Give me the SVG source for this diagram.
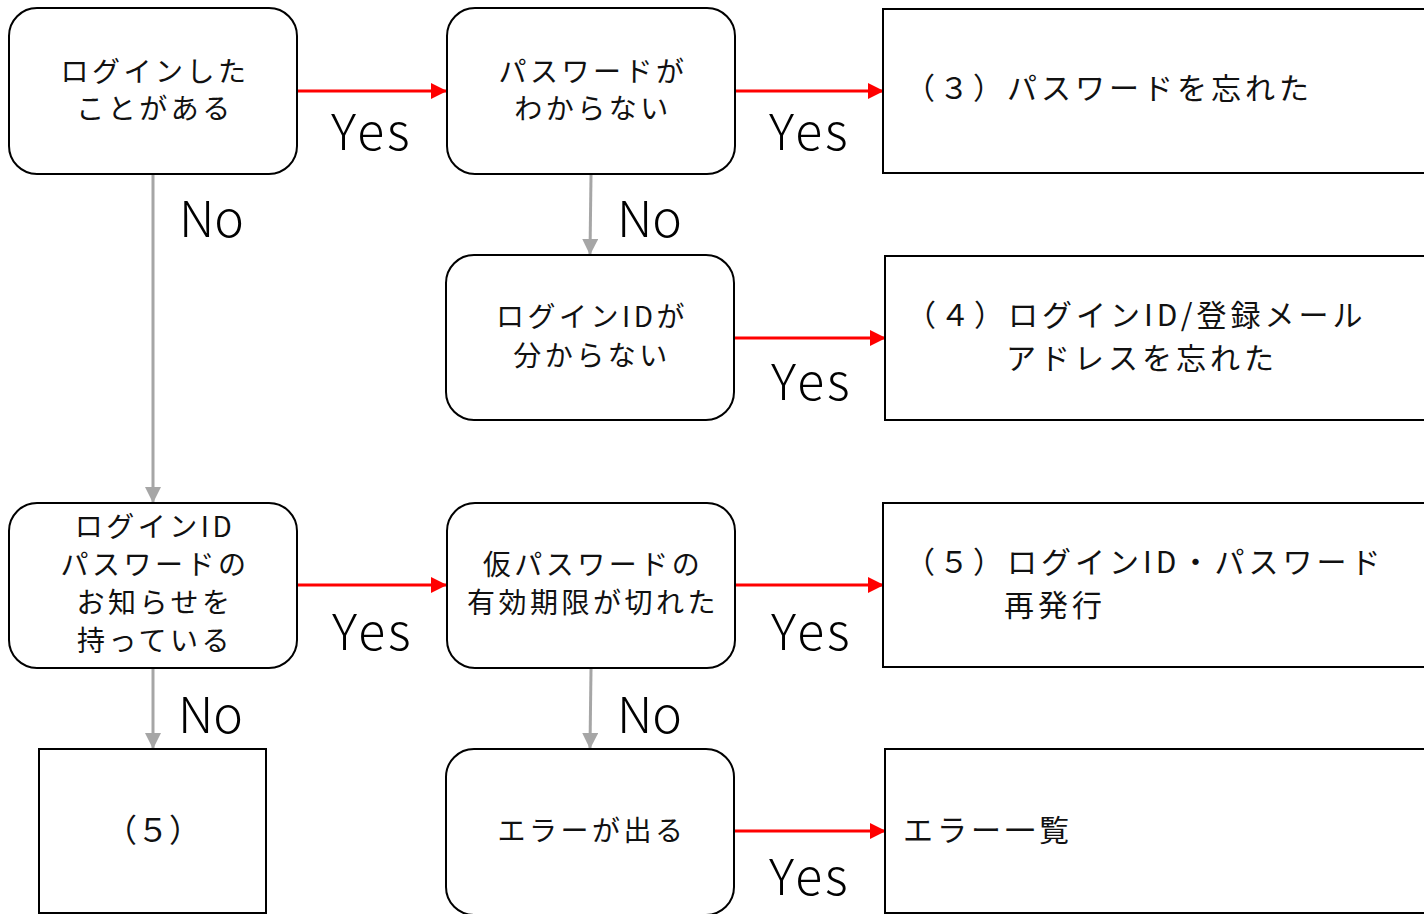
<svg xmlns="http://www.w3.org/2000/svg" width="1424" height="914" viewBox="0 0 1424 914">
<style>
.box{fill:#fff;stroke:#000;stroke-width:2}
.t{font-family:"Noto Sans CJK JP","Noto Sans",sans-serif;font-size:28px;letter-spacing:3.5px;fill:#111;text-anchor:middle}
.r{font-family:"Noto Sans CJK JP","Noto Sans",sans-serif;font-size:30px;letter-spacing:4px;fill:#111}
.yn{font-family:"Noto Sans CJK JP","Noto Sans",sans-serif;font-size:50px;font-weight:300;fill:#000}
.ys{letter-spacing:3px}
.red{stroke:#FF0000;stroke-width:3;fill:none}
.gray{stroke:#A6A6A6;stroke-width:3;fill:none}
</style>
<defs>
<marker id="ar" viewBox="0 0 16 16" refX="15" refY="8" markerWidth="16" markerHeight="16" markerUnits="userSpaceOnUse" orient="auto"><path d="M0,0 L16,8 L0,16 Z" fill="#FF0000"/></marker>
<marker id="ag" viewBox="0 0 16 16" refX="15" refY="8" markerWidth="16" markerHeight="16" markerUnits="userSpaceOnUse" orient="auto"><path d="M0,0 L16,8 L0,16 Z" fill="#A6A6A6"/></marker>
</defs>
<rect width="1424" height="914" fill="#fff"/>
<g id="connectors">
<line class="red" x1="298" y1="91" x2="446" y2="91" marker-end="url(#ar)"/>
<line class="red" x1="736" y1="91" x2="883" y2="91" marker-end="url(#ar)"/>
<line class="red" x1="735" y1="338" x2="885" y2="338" marker-end="url(#ar)"/>
<line class="red" x1="298" y1="585" x2="446" y2="585" marker-end="url(#ar)"/>
<line class="red" x1="736" y1="585" x2="883" y2="585" marker-end="url(#ar)"/>
<line class="red" x1="735" y1="831" x2="885" y2="831" marker-end="url(#ar)"/>
<line class="gray" x1="153" y1="175" x2="153" y2="502" marker-end="url(#ag)"/>
<line class="gray" x1="591" y1="175" x2="590" y2="254" marker-end="url(#ag)"/>
<line class="gray" x1="153" y1="669" x2="153" y2="748" marker-end="url(#ag)"/>
<line class="gray" x1="591" y1="669" x2="590" y2="748" marker-end="url(#ag)"/>
<text class="yn ys" x="331" y="150">Yes</text>
<text class="yn ys" x="769" y="150">Yes</text>
<text class="yn ys" x="771" y="400">Yes</text>
<text class="yn ys" x="332" y="650">Yes</text>
<text class="yn ys" x="771" y="650">Yes</text>
<text class="yn ys" x="769" y="895">Yes</text>
<text class="yn" x="179" y="237">No</text>
<text class="yn" x="617" y="237">No</text>
<text class="yn" x="178" y="733">No</text>
<text class="yn" x="617" y="733">No</text>
</g>
<g id="n-logged">
<rect class="box" x="9" y="8" width="288" height="166" rx="28"/>
<text class="t" x="155" y="82">ログインした</text>
<text class="t" x="155" y="119">ことがある</text>
</g>
<g id="n-pw">
<rect class="box" x="447" y="8" width="288" height="166" rx="28"/>
<text class="t" x="593" y="82">パスワードが</text>
<text class="t" x="593" y="119">わからない</text>
</g>
<g id="n-3">
<rect class="box" x="883" y="9" width="560" height="164"/>
<text class="r" x="905" y="99">（３）パスワードを忘れた</text>
</g>
<g id="n-id">
<rect class="box" x="446" y="255" width="288" height="165" rx="28"/>
<text class="t" x="592" y="327">ログインIDが</text>
<text class="t" x="592" y="366">分からない</text>
</g>
<g id="n-4">
<rect class="box" x="885" y="256" width="560" height="164"/>
<text class="r" x="906" y="326">（４）ログインID/登録メール</text>
<text class="r" x="1006" y="369">アドレスを忘れた</text>
</g>
<g id="n-notice">
<rect class="box" x="9" y="503" width="288" height="165" rx="28"/>
<text class="t" x="155" y="537">ログインID</text>
<text class="t" x="155" y="575">パスワードの</text>
<text class="t" x="155" y="613">お知らせを</text>
<text class="t" x="155" y="651">持っている</text>
</g>
<g id="n-temp">
<rect class="box" x="447" y="503" width="288" height="165" rx="28"/>
<text class="t" x="593" y="575">仮パスワードの</text>
<text class="t" x="593" y="613">有効期限が切れた</text>
</g>
<g id="n-5">
<rect class="box" x="883" y="503" width="560" height="164"/>
<text class="r" x="905" y="573">（５）ログインID・パスワード</text>
<text class="r" x="1004" y="616">再発行</text>
</g>
<g id="n-5b">
<rect class="box" x="39" y="749" width="227" height="164"/>
<text class="t" x="153" y="842" style="font-size:32px;letter-spacing:0">（５）</text>
</g>
<g id="n-err">
<rect class="box" x="446" y="749" width="288" height="166" rx="28"/>
<text class="t" x="592" y="841">エラーが出る</text>
</g>
<g id="n-errlist">
<rect class="box" x="885" y="749" width="560" height="164"/>
<text class="r" x="903" y="841">エラー一覧</text>
</g>
</svg>
